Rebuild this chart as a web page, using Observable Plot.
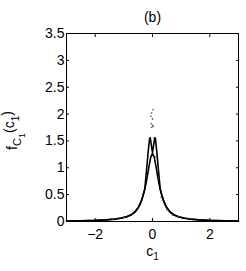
<!DOCTYPE html>
<html><head><meta charset="utf-8">
<script src="https://cdn.jsdelivr.net/npm/d3@7"></script>
<script src="https://cdn.jsdelivr.net/npm/@observablehq/plot@0.6"></script>
<style>
body{margin:0;background:#fff}
svg{font-family:"Liberation Sans",Arial,Helvetica,sans-serif}
</style>
</head><body><div id="chart"></div>
<script>
const title = "(b)";
const xLabel = "c1";
const yLabel = "fC1(c1)";
const xTicks = [-2, 0, 2];
const yTicks = [0, 0.5, 1, 1.5, 2, 2.5, 3, 3.5];

// smooth density curve (peak ~1.27)
const curveAX = [-3, -2.5, -2, -1.6, -1.3, -1.1, -0.9, -0.75, -0.6, -0.5, -0.4, -0.32, -0.25, -0.18, -0.12, -0.06, 0,
                 0.06, 0.12, 0.18, 0.25, 0.32, 0.4, 0.5, 0.6, 0.75, 0.9, 1.1, 1.3, 1.6, 2, 2.5, 3];
const curveAY = [0.01, 0.015, 0.022, 0.033, 0.048, 0.065, 0.09, 0.125, 0.19, 0.26, 0.37, 0.5, 0.64, 0.84, 1.03, 1.2, 1.27,
                 1.2, 1.03, 0.84, 0.64, 0.5, 0.37, 0.26, 0.19, 0.125, 0.09, 0.065, 0.048, 0.033, 0.022, 0.015, 0.01];

// second curve with twin peaks (~1.55) near zero
const curveBX = [-3, -2.5, -2, -1.6, -1.3, -1.1, -0.9, -0.75, -0.6, -0.5, -0.4, -0.32, -0.27, -0.2, -0.15, -0.1, -0.08, -0.04, 0,
                 0.04, 0.08, 0.1, 0.15, 0.2, 0.27, 0.32, 0.4, 0.5, 0.6, 0.75, 0.9, 1.1, 1.3, 1.6, 2, 2.5, 3];
const curveBY = [0.008, 0.012, 0.02, 0.03, 0.045, 0.062, 0.088, 0.12, 0.18, 0.25, 0.36, 0.5, 0.6, 1.0, 1.3, 1.55, 1.56, 1.42, 1.28,
                 1.42, 1.56, 1.55, 1.3, 1.0, 0.6, 0.5, 0.36, 0.25, 0.18, 0.12, 0.088, 0.062, 0.045, 0.03, 0.02, 0.012, 0.008];

// scattered sample points
const dotsX = [0.02, -0.03, -0.05, 0.0, -0.05, 0.0, 0.03, -0.03, 0.05, -0.1, 0.12, 0.3, 0.5, 0.7, -0.7, -0.5, -1.0, 1.2, 0.0, 0.9, -0.35, -0.2, 0.22, -1.4, 1.5];
const dotsY = [2.08, 2.02, 1.96, 1.91, 1.82, 1.79, 1.77, 1.75, 1.55, 1.55, 1.2, 0.45, 0.22, 0.12, 0.14, 0.25, 0.08, 0.06, 0.03, 0.09, 0.5, 0.85, 0.8, 0.04, 0.04];

const curveA = curveAX.map((x, i) => ({x, y: curveAY[i]}));
const curveB = curveBX.map((x, i) => ({x, y: curveBY[i]}));
const dots = dotsX.map((x, i) => ({x, y: dotsY[i]}));

const FS = 14;
const noText = () => "";
const numFmt = d => String(d).replace("-", "\u2212");
const plot = Plot.plot({
  width: 246,
  height: 271,
  marginLeft: 66,
  marginRight: 8,
  marginTop: 33,
  marginBottom: 50,
  style: {fontSize: FS + "px", fontFamily: '"Liberation Sans", Arial, sans-serif', color: "#000", background: "#fff"},
  x: {domain: [-3, 3]},
  y: {domain: [0, 3.5]},
  marks: [
    Plot.line(curveA, {x: "x", y: "y", stroke: "#000", strokeWidth: 1.6}),
    Plot.line(curveB, {x: "x", y: "y", stroke: "#000", strokeWidth: 1.6}),
    Plot.dot(dots, {x: "x", y: "y", r: 0.8, fill: "#444", stroke: "none"}),
    Plot.frame({stroke: "#000", strokeWidth: 1}),
    Plot.axisX(xTicks, {anchor: "bottom", tickSize: 0, tickPadding: 8, label: null, fontSize: FS, tickFormat: numFmt}),
    Plot.axisY(yTicks, {anchor: "left", tickSize: 0, tickPadding: 2, label: null, fontSize: FS, tickFormat: numFmt}),
    Plot.axisX(xTicks, {anchor: "bottom", tickSize: -3, tickFormat: noText, label: null}),
    Plot.axisX(xTicks, {anchor: "top", tickSize: -3, tickFormat: noText, label: null}),
    Plot.axisY(yTicks, {anchor: "left", tickSize: -3, tickFormat: noText, label: null}),
    Plot.axisY(yTicks, {anchor: "right", tickSize: -3, tickFormat: noText, label: null}),
    Plot.text([title], {frameAnchor: "top", lineAnchor: "middle", textAnchor: "middle", dy: -15.5, fontSize: FS, fill: "#000"}),
    Plot.text([xLabel], {frameAnchor: "bottom", lineAnchor: "middle", textAnchor: "middle", dy: 30, fontSize: FS, fill: "#000"}),
    Plot.text([yLabel], {frameAnchor: "left", lineAnchor: "middle", textAnchor: "middle", dx: -54, dy: 3, rotate: -90, fontSize: FS, fill: "#000"})
  ]
});
document.getElementById("chart").appendChild(plot);

// subscripts
d3.select(plot).selectAll("text").each(function() {
  const t = d3.select(this);
  const s = this.textContent;
  if (s === xLabel) {
    t.text(null);
    t.append("tspan").text("c");
    t.append("tspan").attr("dy", "0.45em").attr("font-size", "10px").text("1");
  } else if (s === yLabel) {
    t.text(null);
    t.append("tspan").text("f");
    t.append("tspan").attr("dy", "0.4em").attr("font-size", "11px").text("C");
    t.append("tspan").attr("dy", "0.35em").attr("font-size", "9px").text("1");
    t.append("tspan").attr("dy", "-0.75em").text("(c");
    t.append("tspan").attr("dy", "0.45em").attr("font-size", "10px").text("1");
    t.append("tspan").attr("dy", "-0.45em").text(")");
  }
});
</script>
</body></html>
